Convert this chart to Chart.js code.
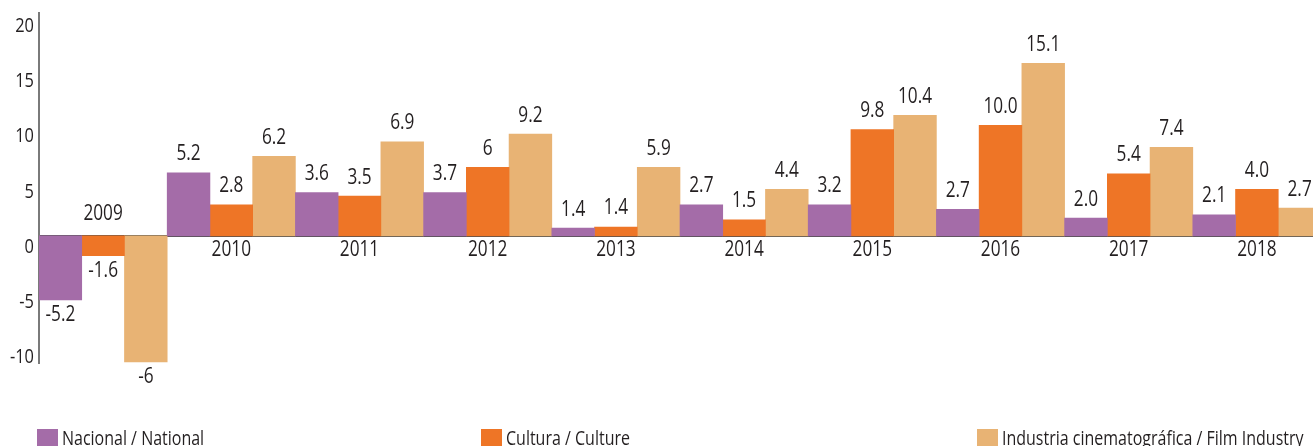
<!DOCTYPE html>
<html>
<head>
<meta charset="utf-8">
<script src="https://cdn.jsdelivr.net/npm/chart.js@4"></script>
<style>
  html, body { margin: 0; padding: 0; background: #fff; overflow: hidden; }
  #wrap { position: relative; width: 1322px; height: 446px; }
</style>
</head>
<body>
<div id="wrap">
  <canvas id="myChart"></canvas>
</div>
<script>
const years = ["2009", "2010", "2011", "2012", "2013", "2014", "2015", "2016", "2017", "2018"];
const yTicks = [-10, -5, 0, 5, 10, 15, 20];

// bar heights as drawn in the picture
const national = [-5.8, 5.7, 3.9, 3.9, 0.7, 2.8, 2.8, 2.4, 1.6, 1.9];
const culture = [-1.8, 2.8, 3.6, 6.2, 0.8, 1.45, 9.6, 10.0, 5.6, 4.2];
const film = [-11.4, 7.2, 8.5, 9.2, 6.2, 4.2, 10.9, 15.6, 8.0, 2.5];

// printed value labels
const nationalText = ["-5.2", "5.2", "3.6", "3.7", "1.4", "2.7", "3.2", "2.7", "2.0", "2.1"];
const cultureText = ["-1.6", "2.8", "3.5", "6", "1.4", "1.5", "9.8", "10.0", "5.4", "4.0"];
const filmText = ["-6", "6.2", "6.9", "9.2", "5.9", "4.4", "10.4", "15.1", "7.4", "2.7"];

const FONT = '"Open Sans", sans-serif';
const TEXT = "#231f20";
const SQUEEZE = 0.82;
const legendX = [37, 481, 977];

// condensed text, baseline at y
function squeezed(c, text, x, y, size, align) {
  c.save();
  c.translate(x, y);
  c.scale(SQUEEZE, 1);
  c.font = "500 " + size + "px " + FONT;
  c.textAlign = align;
  c.textBaseline = "alphabetic";
  c.fillText(text, 0, 0);
  c.restore();
}

const chartText = {
  id: "chartText",
  afterDraw(chart) {
    const c = chart.ctx;
    const xs = chart.scales.x;
    const ys = chart.scales.y;
    const texts = [nationalText, cultureText, filmText];
    c.save();
    c.fillStyle = TEXT;
    //value labels
    chart.data.datasets.forEach((ds, i) => {
      chart.getDatasetMeta(i).data.forEach((bar, j) => {
        const y = ds.data[j] >= 0 ? bar.y - 12.5 : bar.y + 21;
        squeezed(c, texts[i][j], bar.x, y, 21, "center");
      });
    });
    //year labels, the first one sits above the zero line
    const zero = ys.getPixelForValue(0);
    years.forEach((yr, i) => {
      const y = i === 0 ? zero - 15.5 : zero + 20;
      squeezed(c, yr, xs.getPixelForValue(i), y, 21, "center");
    });
    //y tick labels
    yTicks.forEach((v) => {
      squeezed(c, String(v), 34, ys.getPixelForValue(v) + 17, 20, "right");
    });
    //legend
    chart.data.datasets.forEach((ds, i) => {
      c.fillStyle = ds.backgroundColor;
      c.fillRect(legendX[i], 429, 21, 18);
      c.fillStyle = TEXT;
      squeezed(c, ds.label, legendX[i] + 25, 445, 19.5, "left");
    });
    c.restore();
  }
};

const ctx = document.getElementById("myChart");
new Chart(ctx, {
  type: "bar",
  data: {
    labels: years,
    datasets: [
      { label: "Nacional / National", data: national, backgroundColor: "#a46ca8" },
      { label: "Cultura / Culture", data: culture, backgroundColor: "#ee7526" },
      { label: "Industria cinematográfica / Film Industry", data: film, backgroundColor: "#e8b374" }
    ]
  },
  options: {
    responsive: true,
    maintainAspectRatio: false,
    animation: false,
    layout: { padding: { left: 0, right: 1, top: 13, bottom: 83 } },
    datasets: { bar: { barPercentage: 1, categoryPercentage: 1 } },
    plugins: { legend: { display: false }, tooltip: { enabled: false } },
    scales: {
      x: {
        position: { y: 0 },
        grid: { display: false, drawTicks: false },
        border: { color: "#4d4d4d", width: 2 },
        ticks: { display: false }
      },
      y: {
        min: -11.5,
        max: 20.15,
        afterFit: (s) => { s.width = 39; },
        afterBuildTicks: (s) => { s.ticks = yTicks.map((v) => ({ value: v })); },
        grid: { display: false, drawTicks: false },
        border: { color: "#7a7a7a", width: 2 },
        ticks: { display: false }
      }
    }
  },
  plugins: [chartText]
});
</script>
</body>
</html>
